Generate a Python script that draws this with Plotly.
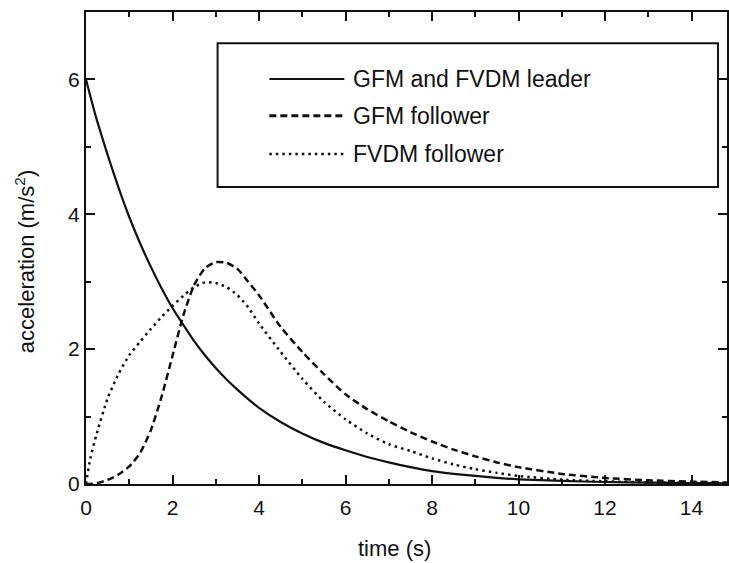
import plotly.graph_objects as go

# time grid (s)
time_s = [0, 0.1, 0.25, 0.5, 0.75, 1, 1.25, 1.5, 1.75, 2, 2.25, 2.5, 2.75, 3, 3.25, 3.5,
          3.75, 4, 4.5, 5, 5.5, 6, 6.5, 7, 7.5, 8, 8.5, 9, 9.5, 10, 11, 12, 13, 14, 15]

# GFM and FVDM leader
leader = [6.0, 5.75, 5.4, 4.88, 4.4, 3.96, 3.57, 3.22, 2.9, 2.61, 2.36, 2.12, 1.91, 1.72,
          1.55, 1.40, 1.26, 1.13, 0.92, 0.75, 0.61, 0.50, 0.40, 0.32, 0.25, 0.19, 0.15,
          0.12, 0.09, 0.07, 0.045, 0.03, 0.02, 0.012, 0.008]

# GFM follower
gfm_follower = [0.0, 0.0, 0.01, 0.06, 0.14, 0.26, 0.46, 0.8, 1.3, 1.9, 2.5, 2.95, 3.2,
                3.29, 3.28, 3.19, 3.0, 2.8, 2.33, 1.96, 1.63, 1.33, 1.11, 0.93, 0.77, 0.63,
                0.51, 0.41, 0.32, 0.25, 0.15, 0.09, 0.055, 0.035, 0.02]

# FVDM follower
fvdm_follower = [0.0, 0.38, 0.75, 1.27, 1.63, 1.91, 2.11, 2.3, 2.48, 2.64, 2.79, 2.92, 2.99,
                 2.98, 2.92, 2.8, 2.62, 2.38, 1.96, 1.56, 1.22, 0.96, 0.75, 0.59, 0.49, 0.38,
                 0.29, 0.22, 0.165, 0.12, 0.065, 0.04, 0.025, 0.015, 0.01]

series_names = ["GFM and FVDM leader", "GFM follower", "FVDM follower"]
x_ticks = [0, 2, 4, 6, 8, 10, 12, 14]
y_ticks = [0, 2, 4, 6]

FONT = "Liberation Sans, Arial, sans-serif"
INK = "#111111"

styles = [
    dict(color=INK, width=2.2, dash="solid"),
    dict(color=INK, width=2.5, dash="7px,4px"),
    dict(color=INK, width=2.5, dash="2.5px,4px"),
]

fig = go.Figure()
for name, ys, st in zip(series_names, [leader, gfm_follower, fvdm_follower], styles):
    fig.add_trace(go.Scatter(x=time_s, y=ys, mode="lines", name=name,
                             line=dict(shape="spline", smoothing=0.6, **st),
                             showlegend=False))

# manual legend box
L = dict(x0=0.2053, x1=0.986, y0=0.629, y1=0.934)
fig.add_shape(type="rect", xref="paper", yref="paper", **L,
              line=dict(color=INK, width=2), fillcolor="white", layer="above")
rows = [0.858, 0.780, 0.699]
for name, st, ry in zip(series_names, styles, rows):
    sst = dict(st)
    if sst["dash"] == "7px,4px":
        sst["width"] = 3
    fig.add_shape(type="line", xref="paper", yref="paper", x0=0.286, x1=0.403,
                  y0=ry, y1=ry, line=sst, layer="above")
    fig.add_annotation(xref="paper", yref="paper", x=0.413, y=ry, text=name,
                       showarrow=False, xanchor="left", yanchor="middle",
                       font=dict(family=FONT, size=23, color=INK))

# axis titles
fig.add_annotation(xref="paper", yref="paper", x=(395 - 86) / 643, y=-(548 - 484) / 472,
                   text="time (s)", showarrow=False, xanchor="center", yanchor="middle",
                   font=dict(family=FONT, size=22, color=INK))
fig.add_annotation(xref="paper", yref="paper", x=-(86 - 25) / 643, y=(484 - 262) / 472,
                   text="acceleration (m/s<sup>2</sup>)", showarrow=False, textangle=-90,
                   xanchor="center", yanchor="middle",
                   font=dict(family=FONT, size=22, color=INK))

axis_common = dict(showline=True, linecolor=INK, linewidth=2, mirror="ticks",
                   ticks="inside", ticklen=9, tickwidth=2, tickcolor=INK,
                   showgrid=False, zeroline=False,
                   tickfont=dict(family=FONT, size=21, color=INK))

fig.update_xaxes(range=[0, 14.82], tickvals=x_ticks, ticklabelstandoff=4,
                 minor=dict(ticks="inside", ticklen=5, tickwidth=2, tickcolor=INK, dtick=1,
                            tick0=0, showgrid=False),
                 **axis_common)
fig.update_yaxes(range=[0, 7], tickvals=y_ticks,
                 minor=dict(ticks="inside", ticklen=5, tickwidth=2, tickcolor=INK, dtick=1,
                            tick0=0, showgrid=False),
                 **axis_common)

fig.update_layout(width=729, height=563,
                  margin=dict(l=86, r=0, t=12, b=79),
                  plot_bgcolor="white", paper_bgcolor="white",
                  font=dict(family=FONT, size=21, color=INK))

fig.write_html("out.html", config={"displayModeBar": False},
               post_script="document.body.style.margin='0';document.body.style.padding='0';")
